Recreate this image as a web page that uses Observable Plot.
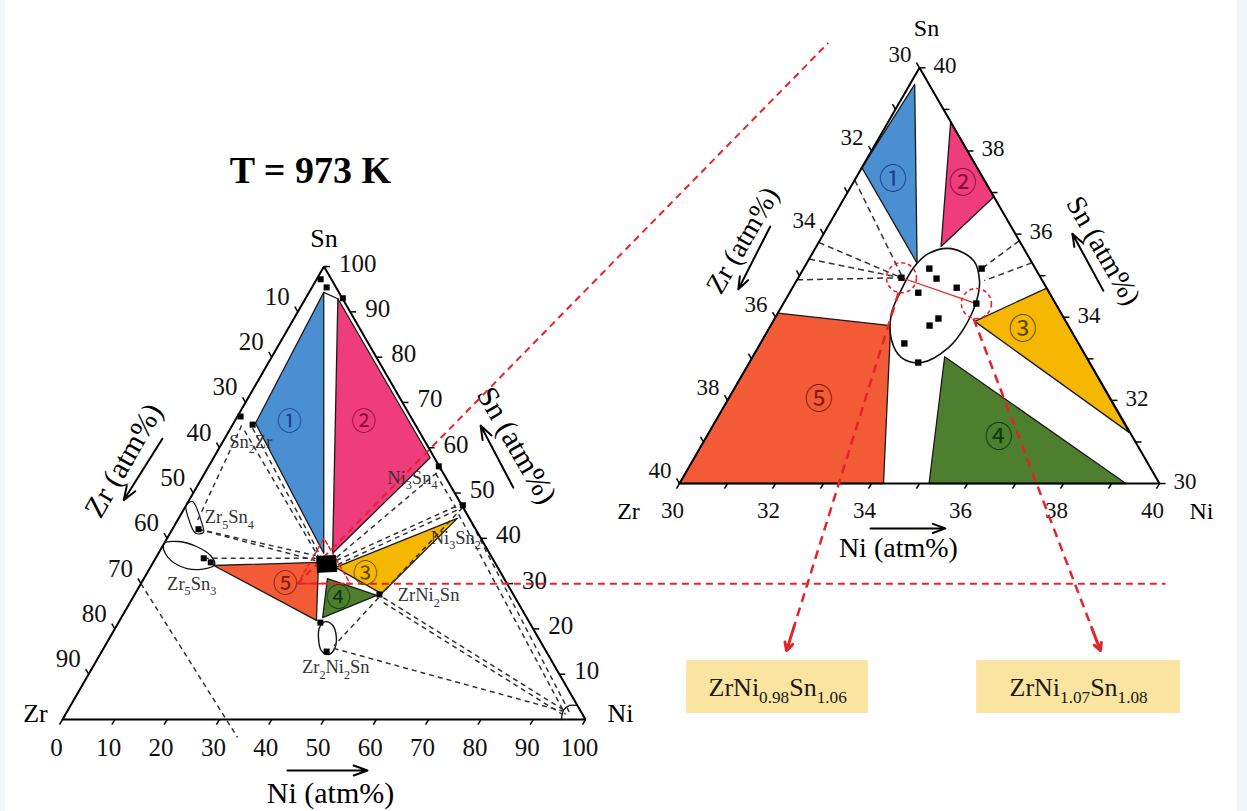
<!DOCTYPE html>
<html>
<head>
<meta charset="utf-8">
<script src="https://cdn.jsdelivr.net/npm/d3@7"></script>
<script src="https://cdn.jsdelivr.net/npm/@observablehq/plot@0.6"></script>
<style>
html,body{margin:0;padding:0;background:#fff;}
#wrap{position:relative;width:1247px;height:811px;overflow:hidden;background:#fff;}
#wrap svg{display:block;}
.edge{position:absolute;top:0;height:811px;background:#f2f5f9;}
</style>
</head>
<body>
<div id="wrap"></div>
<script>
// ================= DATA (at.% ; every point is [Ni, Sn], Zr = 100 - Ni - Sn) =================
const phaseNames = ["①","②","③","④","⑤"];
const phaseFill  = ["#4b8fd3","#ef3c7b","#f6b700","#4e7f2f","#f25b35"];
const phaseInk   = ["#1a3f8e","#8a0c38","#5c4600","#0c3b0c","#84190a"];

// ---- left panel : full Zr–Ni–Sn isothermal section, T = 973 K ----
const leftTicks      = [0,10,20,30,40,50,60,70,80,90,100];
const leftRegion1 = [[2.8,94.3],[4.2,65.4],[31.6,36.7]];
const leftRegion2 = [[6.2,92.9],[41.4,57.8],[33.3,36.7]];
const leftRegion3 = [[35.4,33.6],[53.3,44.4],[47.1,27.8]];
const leftRegion4 = [[35.1,31.1],[46.4,27.4],[38.5,22.5]];
const leftRegion5 = [[11.9,34.0],[31.6,34.7],[37.6,21.9]];
const leftNumberPos = [[10.6,65.6],[24.8,65.6],[41.8,32.2],[39.3,26.9],[27.6,30.0]];
const leftBlob   = [[30.6,36.0],[34.1,36.2],[36.1,32.7],[32.5,32.5]];   // ZrNiSn (half-Heusler)
const leftDots   = [[0.75,97.2],[2.8,95.4],[7.1,93.0],[0.6,66.9],[3.8,65.1],[5.0,42.0],[9.2,35.6],[11.0,34.7],
                    [46.8,27.6],[38.6,21.4],[43.0,15.0],[44.0,55.9],[52.9,47.3]];
const leftOvalZr5Sn3  = [[0,38.9],[2.5,39.3],[6.5,38.2],[10.2,36.2],[12.0,34.2],[9.4,33.1],[5.2,34.0],[1.4,36.6]];
const leftOvalZr5Sn4  = [[0,47.25],[0.8,48.1],[4.7,43.7],[6.3,41.3],[4.9,41.1],[1.9,44.4]];
const leftOvalZr2Ni2Sn= [[39.5,21.6],[41.25,20.8],[43.2,18.3],[44.2,15.7],[43.7,14.35],[41.9,15.2],[40.0,17.9],[39.0,20.3]];
const leftNiCorner    = [[95.4,0],[94.8,2.0],[95.4,3.1],[96.7,3.1]];
const leftTopLine     = [[2.8,94.3],[6.2,92.9]];
const leftTieLines = [
  [[0,30],[35.45,-3.97]],
  [[5.0,42.0],[30.3,36.2]],
  [[5.0,42.0],[30.8,35.1]],
  [[9.2,35.6],[30.6,35.6]],
  [[1.8,64.9],[3.9,43.5]],
  [[2.9,63.8],[31.1,35.8]],
  [[4.2,64.3],[31.2,36.2]],
  [[34.5,35.8],[44.7,55.2]],
  [[34.8,35.1],[52.6,47.7]],
  [[35.5,34.2],[52.8,46.6]],
  [[44.2,54.3],[51.9,46.7]],
  [[53.1,46.8],[47.2,28.0]],
  [[53.3,46.8],[96.2,1.5]],
  [[53.1,45.3],[95.6,1.1]],
  [[47.9,26.9],[95.0,2.0]],
  [[48.5,25.8],[95.1,1.1]],
  [[44.0,15.7],[94.9,1.8]],
  [[47.0,26.9],[43.8,16.3]]
];
const leftPhaseNames = ["Sn{2}Zr","Zr{5}Sn{4}","Zr{5}Sn{3}","Ni{3}Sn{4}","Ni{3}Sn{2}","ZrNi{2}Sn","Zr{2}Ni{2}Sn"];
const leftPhasePos   = [[5.4,61.2],[9.6,44.6],[9.7,30.0],[40.2,53.4],[55.2,40.0],[56.3,27.4],[46.5,11.5]];
const leftZoomWindow = [[30,30],[40,30],[30,40]];

// ---- right panel : enlarged window Zr 30–40, Ni 30–40, Sn 30–40 ----
const rightTicks      = [30,31,32,33,34,35,36,37,38,39,40];
const rightTickLabels = [30,32,34,36,38,40];
const rightRegion1 = [[30.1,39.6],[30.0,37.6],[32.3,35.3]];
const rightRegion2 = [[31.3,38.7],[33.1,36.9],[32.6,35.7]];
const rightRegion3 = [[34.2,33.9],[35.3,34.7],[38.75,31.23]];
const rightRegion4 = [[34.0,33.05],[39.3,30.0],[35.2,30.0]];
const rightRegion5 = [[30,30],[30,34.1],[32.5,33.8],[34.25,30]];
const rightNumberPos = [[30.8,37.3],[32.3,37.2],[35.3,33.7],[36.1,31.1],[31.9,32.0]];
const rightOval = [[32.84,35.65],[33.45,35.36],[33.81,34.88],[33.99,34.40],[34.06,33.75],[33.97,33.27],[33.59,32.91],
                   [33.11,33.03],[32.70,33.44],[32.37,34.09],[32.30,34.57],[32.28,35.19],[32.42,35.53]];
const rightDots = [[32.62,35.17],[32.89,34.93],[33.42,34.71],[32.68,34.59],[32.15,34.95],[33.71,35.17],[34.02,34.33],
                   [33.41,33.97],[33.31,33.80],[33.00,33.37],[33.52,32.91]];
const rightTieLines = [
  [[30.0,37.3],[32.13,35.0]],
  [[30.0,35.8],[32.15,34.95]],
  [[30.0,35.4],[32.15,34.95]],
  [[30.0,34.9],[32.15,34.95]],
  [[34.16,35.84],[33.71,35.17]],
  [[34.69,35.31],[33.91,34.88]]
];
const rightCircles = [[32.15,34.95],[34.02,34.33]];
const compositionNames = ["ZrNi{0.98}Sn{1.06}","ZrNi{1.07}Sn{1.08}"];
const compositionBoxes = [[[32.28,25.74],[36.70,24.47]],[[38.32,25.74],[43.20,24.47]]];
const compositionTextPos = [[34.50,25.09],[40.77,25.09]];
const compositionArrows = [[[32.27,34.59],[34.24,25.98]],[[34.14,33.97],[40.78,25.98]]];

// ================= LAYOUT (ternary -> cartesian) =================
const SQ3 = Math.sqrt(3) / 2;
const PX = 5.23;                    // pixels per unit of the full diagram
const ZOOM = 48 / PX;               // magnification of the right panel
const RX0 = 117.97, RY0 = 45.12;    // origin of the right panel
const L = (ni, sn) => ({x: ni + sn / 2, y: sn * SQ3});
const R = (ni, sn) => ({x: RX0 + ZOOM * ((ni - 30) + (sn - 30) / 2), y: RY0 + ZOOM * (sn - 30) * SQ3});
const TL = 6 / PX;
const FONT = "'Liberation Serif','Times New Roman',serif";
const CIRC = "'Noto Sans CJK SC','DejaVu Sans',sans-serif";

const ring = (f, pts) => pts.concat([pts[0]]).map(p => f(p[0], p[1]));
const pts = (f, arr) => arr.map(p => f(p[0], p[1]));
const links = (f, lines) => lines.map(([a, b]) => { const p = f(a[0], a[1]), q = f(b[0], b[1]); return {x1: p.x, y1: p.y, x2: q.x, y2: q.y}; });
const ticks = (vals, pos, dir) => vals.map(v => { const p = pos(v); return {x1: p.x, y1: p.y, x2: p.x + dir[0] * TL, y2: p.y + dir[1] * TL}; });
const labels = (vals, pos) => vals.map(v => ({...pos(v), text: String(v)}));
const DOWNLEFT = [-0.5, -SQ3], RIGHT = [1, 0], UPLEFT = [-0.5, SQ3];
const xy = {x: "x", y: "y"};
const lk = {x1: "x1", y1: "y1", x2: "x2", y2: "y2"};

const regionMarks = (f, regions) => regions.map((r, i) =>
  Plot.line(ring(f, r), {...xy, fill: phaseFill[i], stroke: "#1a1a1a", strokeWidth: 1.3, strokeLinejoin: "round"}));

const leftRegions = [leftRegion1, leftRegion2, leftRegion3, leftRegion4, leftRegion5];
const rightRegions = [rightRegion1, rightRegion2, rightRegion3, rightRegion4, rightRegion5];

const one = (f, p, extra) => [{...f(p[0], p[1]), ...extra}];

const marks = [
  // ---------- coloured tie-triangles ----------
  ...regionMarks(L, leftRegions),
  ...regionMarks(R, rightRegions),
  // ---------- homogeneity ranges ----------
  Plot.line(pts(L, leftOvalZr5Sn3), {...xy, curve: "catmull-rom-closed", fill: "#fff", stroke: "#111", strokeWidth: 1.3}),
  Plot.line(pts(L, leftOvalZr5Sn4), {...xy, curve: "catmull-rom-closed", fill: "#fff", stroke: "#111", strokeWidth: 1.2}),
  Plot.line(pts(L, leftOvalZr2Ni2Sn), {...xy, curve: "catmull-rom-closed", fill: "#fff", stroke: "#111", strokeWidth: 1.4}),
  Plot.line(pts(L, leftNiCorner), {...xy, curve: "catmull-rom", stroke: "#111", strokeWidth: 1.3}),
  Plot.line(pts(L, leftTopLine), {...xy, stroke: "#111", strokeWidth: 1.3}),
  Plot.line(pts(R, rightOval), {...xy, curve: "catmull-rom-closed", fill: "#fff", stroke: "#111", strokeWidth: 1.6}),
  // ---------- dashed tie-lines ----------
  Plot.link(links(L, leftTieLines), {...lk, stroke: "#333", strokeWidth: 1.5, strokeDasharray: "5,4"}),
  Plot.link(links(R, rightTieLines), {...lk, stroke: "#333", strokeWidth: 1.5, strokeDasharray: "6,4"}),
  // ---------- triangle frames ----------
  Plot.line(ring(L, [[0,0],[100,0],[0,100]]), {...xy, stroke: "#000", strokeWidth: 2, strokeLinejoin: "miter"}),
  Plot.line(ring(R, [[30,30],[40,30],[30,40]]), {...xy, stroke: "#000", strokeWidth: 2, strokeLinejoin: "miter"}),
  // ---------- ticks ----------
  Plot.link(ticks(leftTicks, v => L(v, 0), DOWNLEFT), {...lk, stroke: "#000", strokeWidth: 1.5}),
  Plot.link(ticks(leftTicks.slice(1), v => L(100 - v, v), RIGHT), {...lk, stroke: "#000", strokeWidth: 1.5}),
  Plot.link(ticks(leftTicks.slice(1, -1), v => L(0, 100 - v), UPLEFT), {...lk, stroke: "#000", strokeWidth: 1.5}),
  Plot.link(ticks(rightTicks, v => R(v, 30), DOWNLEFT), {...lk, stroke: "#000", strokeWidth: 1.5}),
  Plot.link(ticks(rightTicks, v => R(70 - v, v), RIGHT), {...lk, stroke: "#000", strokeWidth: 1.5}),
  Plot.link(ticks(rightTicks, v => R(30, 70 - v), UPLEFT), {...lk, stroke: "#000", strokeWidth: 1.5}),
  // ---------- tick labels ----------
  Plot.text(labels(leftTicks, v => L(v, 0)), {...xy, text: "text", fontSize: 25, dx: -6, dy: 28, fill: "#111"}),
  Plot.text(labels(leftTicks.slice(1), v => L(100 - v, v)), {...xy, text: "text", fontSize: 25, textAnchor: "start", dx: 15, dy: -3, fill: "#111"}),
  Plot.text(labels(leftTicks.slice(1, -1), v => L(0, 100 - v)), {...xy, text: "text", fontSize: 25, textAnchor: "end", dx: -8, dy: -15, fill: "#111"}),
  Plot.text(labels(rightTickLabels, v => R(v, 30)), {...xy, text: "text", fontSize: 23, dx: -7, dy: 27, fill: "#111"}),
  Plot.text(labels(rightTickLabels, v => R(70 - v, v)), {...xy, text: "text", fontSize: 23, textAnchor: "start", dx: 14, dy: -2, fill: "#111"}),
  Plot.text(labels(rightTickLabels, v => R(30, 70 - v)), {...xy, text: "text", fontSize: 23, textAnchor: "end", dx: -8, dy: -13, fill: "#111"}),
  // ---------- vertex labels ----------
  Plot.text(one(L, [0,100], {t: "Sn"}), {...xy, text: "t", fontSize: 26, dy: -28}),
  Plot.text(one(L, [0,0], {t: "Zr"}), {...xy, text: "t", fontSize: 26, dx: -27, dy: -6}),
  Plot.text(one(L, [100,0], {t: "Ni"}), {...xy, text: "t", fontSize: 26, dx: 35, dy: -6}),
  Plot.text(one(R, [30,40], {t: "Sn"}), {...xy, text: "t", fontSize: 24, dx: 7, dy: -40}),
  Plot.text(one(R, [30,30], {t: "Zr"}), {...xy, text: "t", fontSize: 24, dx: -51, dy: 28}),
  Plot.text(one(R, [40,30], {t: "Ni"}), {...xy, text: "t", fontSize: 24, dx: 42, dy: 28}),
  // ---------- axis titles + arrows ----------
  Plot.text(one(L, [-16.9,57.2], {t: "Zr (atm%)"}), {...xy, text: "t", fontSize: 30, rotate: -60}),
  Plot.text(one(L, [56.6,60.5], {t: "Sn (atm%)"}), {...xy, text: "t", fontSize: 30, rotate: 60}),
  Plot.text(one(L, [59.4,-16.3], {t: "Ni (atm%)"}), {...xy, text: "t", fontSize: 30}),
  Plot.text(one(L, [-13.2,121.2], {t: "T = 973 K"}), {...xy, text: "t", fontSize: 38, fontWeight: "bold"}),
  Plot.arrow(links(L, [[[-11.9,62.0],[-12.5,48.4]], [[60.6,51.2],[47.5,64.9]], [[48.65,-11.26],[63.95,-11.26]]]),
    {...lk, stroke: "#000", strokeWidth: 2, headLength: 11, headAngle: 40}),
  Plot.text(one(R, [28.39,35.85], {t: "Zr (atm%)"}), {...xy, text: "t", fontSize: 28, rotate: -60}),
  Plot.text(one(R, [36.03,35.6], {t: "Sn (atm%)"}), {...xy, text: "t", fontSize: 28, rotate: 60}),
  Plot.text(one(R, [35.34,28.44], {t: "Ni (atm%)"}), {...xy, text: "t", fontSize: 28}),
  Plot.arrow(links(R, [[[28.8,36.18],[28.89,34.67]], [[36.51,34.64],[35.18,36.01]], [[34.52,28.92],[36.08,28.92]]]),
    {...lk, stroke: "#000", strokeWidth: 2, headLength: 10, headAngle: 40}),
  // ---------- red zoom indicators ----------
  Plot.line(ring(L, leftZoomWindow), {...xy, stroke: "#e3242b", strokeWidth: 1.6, strokeDasharray: "4,3"}),
  Plot.link([{p: L(30,30), q: R(27.8,40.6)}, {p: L(30,30), q: R(41.33,27.59)}],
    {x1: d => d.p.x, y1: d => d.p.y, x2: d => d.q.x, y2: d => d.q.y, stroke: "#e3242b", strokeWidth: 2, strokeDasharray: "7,5"}),
  Plot.link(links(R, [rightCircles]), {...lk, stroke: "#e3242b", strokeWidth: 1.3}),
  Plot.dot(pts(R, rightCircles), {...xy, r: 15, stroke: "#e3242b", strokeWidth: 1.6, strokeDasharray: "4,3", fill: "none"}),
  Plot.link(compositionArrows.map(([a, b]) => { const p = R(...a), q = R(...b); return {x1: p.x, y1: p.y, x2: p.x + 0.93 * (q.x - p.x), y2: p.y + 0.93 * (q.y - p.y)}; }),
    {...lk, stroke: "#e3242b", strokeWidth: 2.5, strokeDasharray: "9,6"}),
  Plot.arrow(compositionArrows.map(([a, b]) => { const p = R(...a), q = R(...b); return {x1: p.x + 0.93 * (q.x - p.x), y1: p.y + 0.93 * (q.y - p.y), x2: q.x, y2: q.y}; }),
    {...lk, stroke: "#e3242b", strokeWidth: 3, headLength: 13, headAngle: 55}),
  // ---------- composition boxes ----------
  Plot.rect(compositionBoxes.map(([a, b]) => { const p = R(...a), q = R(...b); return {x1: p.x, y1: p.y, x2: q.x, y2: q.y}; }),
    {...lk, fill: "#fbe3a0"}),
  Plot.text(compositionTextPos.map((p, i) => ({...R(p[0], p[1]), t: compositionNames[i]})), {...xy, text: "t", fontSize: 26, fill: "#1a1a1a"}),
  // ---------- experimental points ----------
  Plot.line(ring(L, leftBlob), {...xy, fill: "#000", stroke: "#000", strokeWidth: 1}),
  Plot.dot(pts(L, leftDots), {...xy, symbol: "square", r: 3.4, fill: "#000"}),
  Plot.dot(pts(R, rightDots), {...xy, symbol: "square", r: 3.6, fill: "#000"}),
  // ---------- phase labels ----------
  Plot.text(leftPhasePos.map((p, i) => ({...L(p[0], p[1]), t: leftPhaseNames[i]})), {...xy, text: "t", fontSize: 18.5, fill: "#333"}),
  Plot.text(leftNumberPos.map((p, i) => ({...L(p[0], p[1]), t: phaseNames[i], c: phaseInk[i]})), {...xy, text: "t", fill: "c", fontSize: 25, fontFamily: CIRC}),
  Plot.text(rightNumberPos.map((p, i) => ({...R(p[0], p[1]), t: phaseNames[i], c: phaseInk[i]})), {...xy, text: "t", fill: "c", fontSize: 28, fontFamily: CIRC})
];

const chart = Plot.plot({
  width: 1247, height: 811, margin: 0,
  x: {domain: [-62 / PX, (1247 - 62) / PX], axis: null},
  y: {domain: [(719 - 811) / PX, 719 / PX], axis: null},
  color: {type: "identity"},
  style: {fontFamily: FONT, background: "#fff", color: "#000", overflow: "visible"},
  marks
});
const wrap = document.getElementById("wrap");
wrap.appendChild(chart);
["0px:5px", "1237px:10px"].forEach(s => { const [l, w] = s.split(":"); const d = document.createElement("div"); d.className = "edge"; d.style.left = l; d.style.width = w; wrap.appendChild(d); });

// chemical-formula subscripts written as {..}
chart.querySelectorAll("text").forEach(t => {
  const s = t.textContent;
  if (!s.includes("{")) return;
  const fs = parseFloat(getComputedStyle(t).fontSize) || 16;
  t.textContent = "";
  let down = false;
  s.split(/(\{[^}]*\})/).filter(x => x.length).forEach(part => {
    const ts = document.createElementNS("http://www.w3.org/2000/svg", "tspan");
    if (part.startsWith("{")) {
      ts.textContent = part.slice(1, -1);
      ts.setAttribute("font-size", (fs * 0.66).toFixed(1));
      if (!down) ts.setAttribute("dy", (fs * 0.28).toFixed(1));
      down = true;
    } else {
      ts.textContent = part;
      if (down) ts.setAttribute("dy", (-fs * 0.28).toFixed(1));
      down = false;
    }
    t.appendChild(ts);
  });
});
</script>
</body>
</html>
